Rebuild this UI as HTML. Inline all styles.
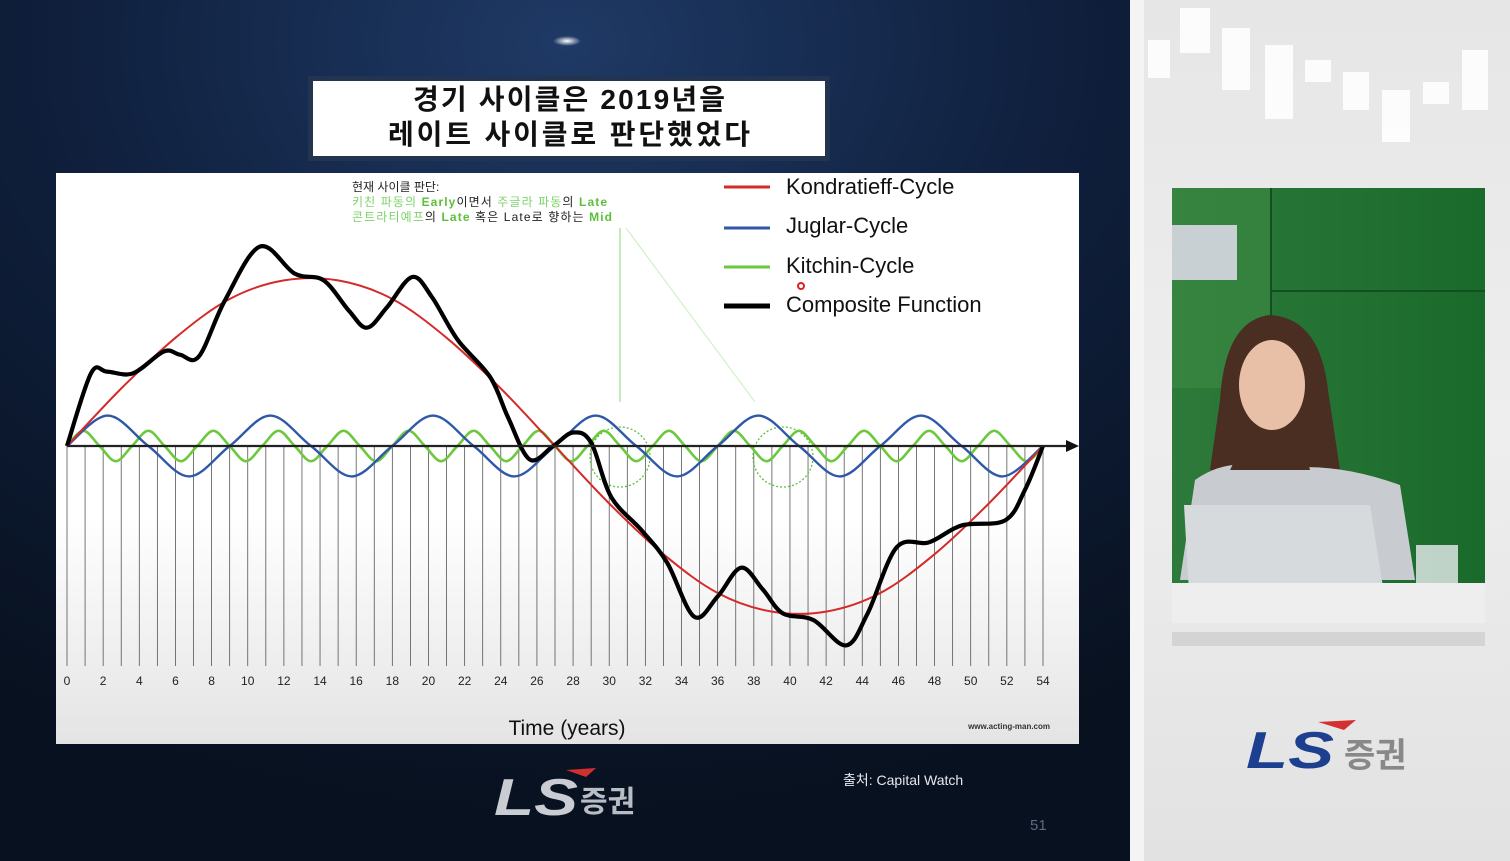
<!DOCTYPE html>
<html><head><meta charset="utf-8"><style>
html,body{margin:0;padding:0;width:1510px;height:861px;overflow:hidden;background:#0b1528;}
svg{display:block;font-family:"Liberation Sans","Noto Sans CJK KR",sans-serif;}
</style></head><body>
<svg id="root" width="1510" height="861" viewBox="0 0 1510 861">
<defs>
<radialGradient id="slideBg" cx="0.5" cy="0.05" r="0.9">
<stop offset="0" stop-color="#1f3a66"/><stop offset="0.5" stop-color="#0f1f3c"/><stop offset="1" stop-color="#08111f"/>
</radialGradient>
<linearGradient id="chartBg" x1="0" y1="0" x2="0" y2="1">
<stop offset="0" stop-color="#ffffff"/><stop offset="0.6" stop-color="#ffffff"/><stop offset="1" stop-color="#e4e4e4"/>
</linearGradient>
<linearGradient id="rightBg" x1="0" y1="0" x2="0" y2="1">
<stop offset="0" stop-color="#e6e6e6"/><stop offset="0.5" stop-color="#eeeeee"/><stop offset="1" stop-color="#e2e2e2"/>
</linearGradient>
<linearGradient id="greenBg" x1="0" y1="0" x2="1" y2="0">
<stop offset="0" stop-color="#2d7a3a"/><stop offset="1" stop-color="#1a6a2c"/>
</linearGradient>
<radialGradient id="spot" cx="0.5" cy="0.5" r="0.5"><stop offset="0" stop-color="#fff"/><stop offset="1" stop-color="#fff" stop-opacity="0"/></radialGradient>
</defs>

<rect x="0" y="0" width="1132" height="861" fill="url(#slideBg)"/>
<ellipse cx="567" cy="41" rx="14" ry="5" fill="url(#spot)"/>
<g>
<rect x="308" y="76" width="522" height="85" fill="#22344f"/>
<rect x="313" y="81" width="512" height="75" fill="#ffffff"/>
<text x="569" y="109" text-anchor="middle" font-size="28" font-weight="bold" fill="#111" textLength="312">경기 사이클은 2019년을</text>
<text x="569" y="144" text-anchor="middle" font-size="28" font-weight="bold" fill="#111" textLength="362">레이트 사이클로 판단했었다</text>
</g>
<rect x="56" y="173" width="1023" height="571" fill="url(#chartBg)"/>

<g id="grid"></g>
<g id="ticks"></g>

<g font-size="12">
<text x="352" y="191" fill="#222">현재 사이클 판단:</text>
<text x="352" y="206" textLength="255"><tspan fill="#7cd26a">키친 파동의 </tspan><tspan fill="#5cbf3a" font-weight="bold">Early</tspan><tspan fill="#222">이면서 </tspan><tspan fill="#7cd26a">주글라 파동</tspan><tspan fill="#222">의 </tspan><tspan fill="#5cbf3a" font-weight="bold">Late</tspan></text>
<text x="352" y="221" textLength="260"><tspan fill="#7cd26a">콘트라티예프</tspan><tspan fill="#222">의 </tspan><tspan fill="#5cbf3a" font-weight="bold">Late</tspan><tspan fill="#222"> 혹은 Late로 향하는 </tspan><tspan fill="#5cbf3a" font-weight="bold">Mid</tspan></text>
<line x1="620" y1="228" x2="620" y2="402" stroke="#9ee08a" stroke-width="1.2"/>
<line x1="626" y1="228" x2="755" y2="402" stroke="#c8eebc" stroke-width="1"/>
<circle cx="620" cy="457" r="30" fill="none" stroke="#5cbf3a" stroke-width="1.3" stroke-dasharray="2,2"/>
<circle cx="783" cy="457" r="30" fill="none" stroke="#5cbf3a" stroke-width="1.3" stroke-dasharray="2,2"/>
</g>

<g id="series"></g>
<line x1="67" y1="446" x2="1070" y2="446" stroke="#222" stroke-width="2.2"/>
<polygon points="1066,440 1079,446 1066,452" fill="#111"/>

<g font-size="22" fill="#111">
<g><line x1="724" y1="187" x2="770" y2="187" stroke="#d42a2a" stroke-width="3"/><text x="786" y="194">Kondratieff-Cycle</text></g>
<g><line x1="724" y1="228" x2="770" y2="228" stroke="#2f58a8" stroke-width="3"/><text x="786" y="233">Juglar-Cycle</text></g>
<g><line x1="724" y1="267" x2="770" y2="267" stroke="#6cc93d" stroke-width="3"/><text x="786" y="273">Kitchin-Cycle</text></g>
<g><line x1="724" y1="306" x2="770" y2="306" stroke="#000" stroke-width="5"/><text x="786" y="312">Composite Function</text></g>
<circle cx="801" cy="286" r="3" fill="none" stroke="#e02020" stroke-width="2"/>
</g>
<text x="567" y="735" text-anchor="middle" font-size="21" fill="#111">Time (years)</text>
<text x="1050" y="729" text-anchor="end" font-size="8" font-weight="bold" fill="#333">www.acting-man.com</text>

<g>
<text x="494" y="815" font-size="52" font-style="italic" font-weight="bold" fill="#c9ccd2" textLength="84" lengthAdjust="spacingAndGlyphs">LS</text>
<text x="580" y="812" font-size="30" font-weight="bold" fill="#b8bcc4">증권</text>
<path d="M566,770 L596,768 L586,777 Z" fill="#d03030"/>
</g>
<text x="843" y="785" font-size="14" fill="#e6e8ee">출처: Capital Watch</text>
<text x="1030" y="830" font-size="15" fill="#5a6a80">51</text>

<g>
<rect x="1132" y="0" width="378" height="861" fill="url(#rightBg)"/>
<rect x="1130" y="0" width="14" height="861" fill="#f4f4f4"/>
<g fill="#ffffff" opacity="0.9">
<rect x="1180" y="8" width="30" height="45"/><rect x="1222" y="28" width="28" height="62"/><rect x="1265" y="45" width="28" height="74"/>
<rect x="1305" y="60" width="26" height="22"/><rect x="1343" y="72" width="26" height="38"/><rect x="1382" y="90" width="28" height="52"/>
<rect x="1423" y="82" width="26" height="22"/><rect x="1462" y="50" width="26" height="60"/><rect x="1148" y="40" width="22" height="38"/>
</g>
<rect x="1172" y="188" width="313" height="395" fill="url(#greenBg)"/>
<rect x="1172" y="188" width="100" height="200" fill="#3d8a45" opacity="0.6"/>
<rect x="1172" y="225" width="65" height="55" fill="#c9d0d3"/>
<rect x="1270" y="188" width="2" height="200" fill="#135020"/>
<rect x="1272" y="290" width="213" height="2" fill="#135020"/>
<path d="M1220,400 Q1225,320 1270,315 Q1320,318 1328,390 L1340,470 L1210,470 Z" fill="#4a2e22"/>
<ellipse cx="1272" cy="385" rx="33" ry="45" fill="#e8c0a8"/>
<path d="M1180,580 L1195,480 Q1230,455 1275,470 Q1330,460 1400,485 L1415,580 Z" fill="#c8ccd0"/>
<path d="M1230,470 L1250,430 L1300,430 L1310,470 Z" fill="#4a2e22"/>
<path d="M1184,505 L1370,505 L1385,600 L1190,610 Z" fill="#d6dadd"/>
<rect x="1416" y="545" width="42" height="60" fill="#e8eef0" opacity="0.8"/>
<rect x="1172" y="583" width="313" height="40" fill="#eeeeee"/>
<rect x="1172" y="632" width="313" height="14" fill="#d4d4d4"/>
<text x="1246" y="768" font-size="52" font-style="italic" font-weight="bold" fill="#1d3f8f" textLength="88" lengthAdjust="spacingAndGlyphs">LS</text>
<path d="M1318,722 L1356,720 L1344,730 Z" fill="#d43030"/>
<text x="1344" y="767" font-size="34" fill="#888" font-weight="bold">증권</text>
</g>
</svg>
<script>
var ticks=[0,2,4,6,8,10,12,14,16,18,20,22,24,26,28,30,32,34,36,38,40,42,44,46,48,50,52,54];
var kondX=[0,3,6,9,12,15,18,21,24,27,30,33,36,39,42,45,48,51,54];
var kondY=[0,0.34,0.64,0.87,0.98,0.98,0.87,0.64,0.34,0,-0.34,-0.64,-0.87,-0.98,-0.98,-0.87,-0.64,-0.34,0];
var juglarX=[0,2.25,4.5,6.75,9,11.25,13.5,15.75,18,20.25,22.5,24.75,27,29.25,31.5,33.75,36,38.25,40.5,42.75,45,47.25,49.5,51.75,54];
var juglarY=[0,0.18,0,-0.18,0,0.18,0,-0.18,0,0.18,0,-0.18,0,0.18,0,-0.18,0,0.18,0,-0.18,0,0.18,0,-0.18,0];
var kitchinX=[0,0.9,1.8,2.7,3.6,4.5,5.4,6.3,7.2,8.1,9,9.9,10.8,11.7,12.6,13.5,14.4,15.3,16.2,17.1,18,18.9,19.8,20.7,21.6,22.5,23.4,24.3,25.2,26.1,27,27.9,28.8,29.7,30.6,31.5,32.4,33.3,34.2,35.1,36,36.9,37.8,38.7,39.6,40.5,41.4,42.3,43.2,44.1,45,45.9,46.8,47.7,48.6,49.5,50.4,51.3,52.2,53.1,54];
var kitchinY=[0,0.09,0,-0.09,0,0.09,0,-0.09,0,0.09,0,-0.09,0,0.09,0,-0.09,0,0.09,0,-0.09,0,0.09,0,-0.09,0,0.09,0,-0.09,0,0.09,0,-0.09,0,0.09,0,-0.09,0,0.09,0,-0.09,0,0.09,0,-0.09,0,0.09,0,-0.09,0,0.09,0,-0.09,0,0.09,0,-0.09,0,0.09,0,-0.09,0];
var compX=[0,1.33,2.21,3.65,5.36,6.25,7.3,8.73,10.67,12.6,14.2,15.6,16.6,17.7,19.1,20.2,21.6,23.4,24.4,25.6,26.9,28.0,29.0,30.1,31.8,33.2,34.7,36.0,37.3,38.5,39.6,41.3,43.1,44.3,45.9,47.7,49.5,51.9,53.0,54];
var compY=[0,0.43,0.44,0.43,0.56,0.54,0.53,0.86,1.18,1.02,0.98,0.80,0.70,0.82,1.0,0.88,0.63,0.41,0.17,-0.08,0,0.08,0.02,-0.30,-0.50,-0.69,-1.01,-0.89,-0.72,-0.85,-0.99,-1.03,-1.18,-0.99,-0.60,-0.57,-0.47,-0.44,-0.26,0];

var NS='http://www.w3.org/2000/svg';
function xs(v){return 67+v*(1043-67)/54;}
function ys(v){return 446-v*169;}
function smooth(X,Y){
  var p=X.map(function(x,i){return [xs(x),ys(Y[i])];});
  var d='M'+p[0][0].toFixed(1)+','+p[0][1].toFixed(1);
  for(var i=0;i<p.length-1;i++){
    var p0=p[i-1]||p[i],p1=p[i],p2=p[i+1],p3=p[i+2]||p[i+1];
    var c1x=p1[0]+(p2[0]-p0[0])/6,c1y=p1[1]+(p2[1]-p0[1])/6;
    var c2x=p2[0]-(p3[0]-p1[0])/6,c2y=p2[1]-(p3[1]-p1[1])/6;
    d+=' C'+c1x.toFixed(1)+','+c1y.toFixed(1)+' '+c2x.toFixed(1)+','+c2y.toFixed(1)+' '+p2[0].toFixed(1)+','+p2[1].toFixed(1);
  }
  return d;
}
var grid=document.getElementById('grid');
for(var y=0;y<=54;y++){
  var l=document.createElementNS(NS,'line');
  l.setAttribute('x1',xs(y));l.setAttribute('x2',xs(y));
  l.setAttribute('y1',446);l.setAttribute('y2',666);
  l.setAttribute('stroke','#555');l.setAttribute('stroke-width','0.8');
  
  
  grid.appendChild(l);
}
var tg=document.getElementById('ticks');
ticks.forEach(function(t){
  var tx=document.createElementNS(NS,'text');
  tx.setAttribute('x',xs(t));tx.setAttribute('y',685);
  tx.setAttribute('text-anchor','middle');tx.setAttribute('font-size','12');tx.setAttribute('fill','#222');
  tx.textContent=t;
  
  
  tg.appendChild(tx);
});
var sg=document.getElementById('series');
[[kitchinX,kitchinY,'#6cc93d',2.6,'kitchin-line'],[juglarX,juglarY,'#2f58a8',2.4,'juglar-line'],[kondX,kondY,'#d42a2a',2,'kondratieff-line'],[compX,compY,'#000',4.2,'composite-line']].forEach(function(s){
  var p=document.createElementNS(NS,'path');
  p.setAttribute('d',smooth(s[0],s[1]));
  p.setAttribute('fill','none');p.setAttribute('stroke',s[2]);p.setAttribute('stroke-width',s[3]);
  p.setAttribute('stroke-linejoin','round');
  
  
  sg.appendChild(p);
});
</script>
</body></html>
